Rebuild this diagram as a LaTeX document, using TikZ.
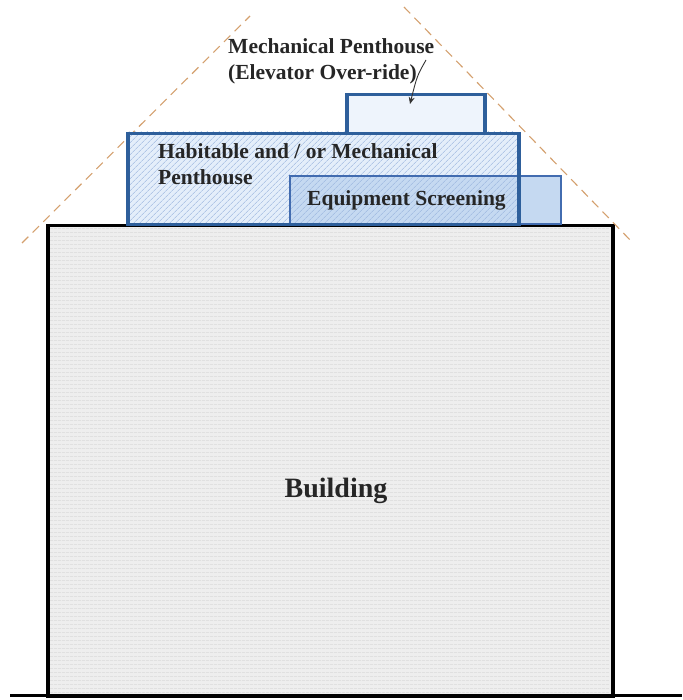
\documentclass[tikz,border=0pt]{standalone}
\usepackage{fontspec}
\setmainfont{Liberation Serif}
\usetikzlibrary{patterns.meta,arrows.meta}
\definecolor{habborder}{RGB}{46,95,155}
\definecolor{eqborder}{RGB}{66,108,176}
\definecolor{eqfill}{RGB}{197,217,241}
\definecolor{habfill}{RGB}{228,238,250}
\definecolor{habhatch}{RGB}{150,178,220}
\definecolor{elevfill}{RGB}{238,244,252}
\definecolor{dashcol}{RGB}{212,160,110}
\definecolor{bldfill}{RGB}{238,238,238}
\definecolor{bldline}{RGB}{218,218,218}
\tikzset{
  lbl/.style={font=\bfseries\fontsize{21.5}{26.5}\selectfont, text=black!85, inner sep=0pt, align=left},
  envelope/.style={draw=dashcol, dashed, dash pattern=on 9pt off 6pt, line width=1.1pt},
}
\begin{document}
\begin{tikzpicture}[x=1pt,y=-1pt]
\useasboundingbox (0,0) rectangle (682,700);
% building
\fill[bldfill] (46,224) rectangle (611,694);
\fill[pattern={Lines[angle=0,distance=4pt,line width=0.8pt]}, pattern color=bldline] (48,226) rectangle (609,692);
\node[draw=black, line width=3.5pt, minimum width=565pt, minimum height=470pt, anchor=north west, inner sep=0pt] (bldg) at (46,224) {};
\draw[line width=3pt] (10,695) -- (682,695);
% envelope dashed lines
\coordinate (el1) at (22,243);
\coordinate (el2) at (250,16);
\coordinate (er1) at (404,7);
\coordinate (er2) at (633,243);
\draw[envelope] (el1) -- (el2);
\draw[envelope] (er1) -- (er2);
% habitable penthouse background
\fill[habfill] (126,132) rectangle (517,223);
% equipment screening
\fill[eqfill] (289,175) rectangle (560,223);
% hatch of habitable
\fill[pattern={Lines[angle=45,distance=4pt,line width=0.6pt]}, pattern color=habhatch] (126,132) rectangle (517,223);
\node[draw=eqborder, line width=1.8pt, minimum width=271pt, minimum height=48pt, anchor=north west, inner sep=0pt] (eq) at (289,175) {};
\node[draw=habborder, line width=3.5pt, minimum width=391pt, minimum height=91pt, anchor=north west, inner sep=0pt] (hab) at (126,132) {};
% elevator overrun
\node[draw=habborder, fill=elevfill, line width=3.5pt, minimum width=138pt, minimum height=39pt, anchor=north west, inner sep=0pt] (elev) at (345,93) {};
% labels
\node[lbl, anchor=north west] (mp) at (228,38) {Mechanical Penthouse\\(Elevator Over-ride)};
\node[lbl, anchor=north west] (habl) at (158,143) {Habitable and / or Mechanical\\Penthouse};
\node[lbl, anchor=base west] (eql) at (307,206) {Equipment Screening};
\node[font=\bfseries\fontsize{28}{32}\selectfont, text=black!85, inner sep=0pt, anchor=base] (bl) at (336,497) {Building};
% arrow
\coordinate (as) at (426,60);
\coordinate (ae) at (410,104);
\draw[-{Stealth[length=7pt,width=6pt]}, line width=0.9pt, black!80] (as) .. controls (417,76) .. (ae);
\end{tikzpicture}
\end{document}
